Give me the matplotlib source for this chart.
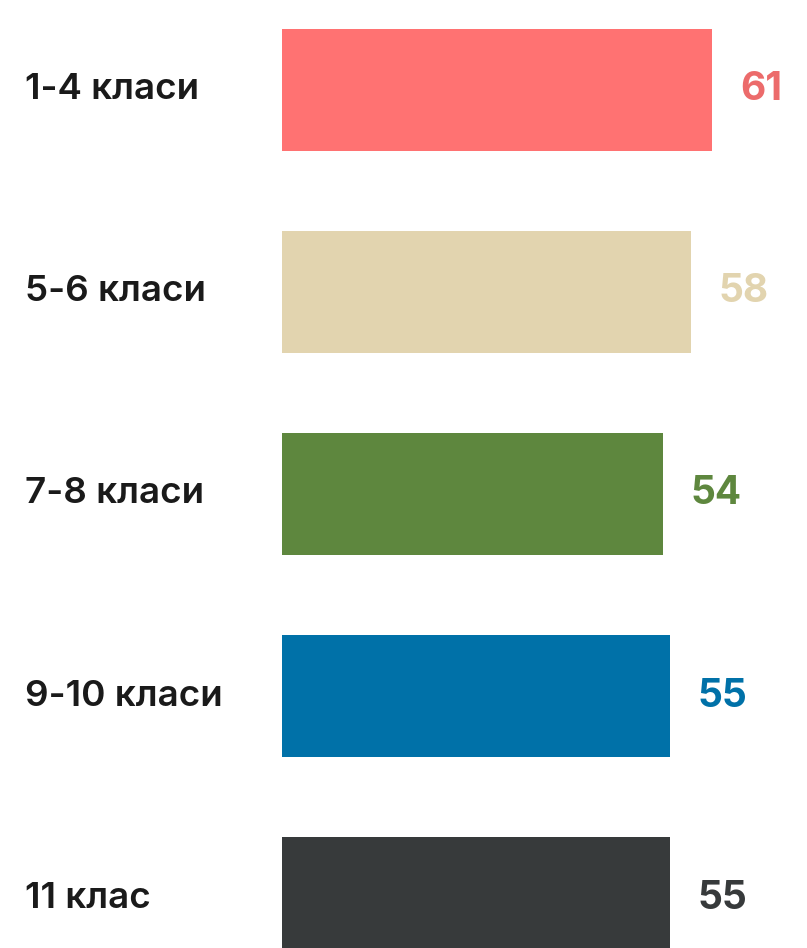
import matplotlib.pyplot as plt

# data
categories = ['1-4 класи', '5-6 класи', '7-8 класи', '9-10 класи', '11 клас']
values = [61, 58, 54, 55, 55]
bar_colors = ['#FF7272', '#E2D4AF', '#5E873E', '#0071A8', '#373A3B']
label_colors = ['#EC6B6B', '#E2D4AF', '#5E873E', '#0071A8', '#373A3B']

fig = plt.figure(figsize=(8.07, 9.48), dpi=100)
fig.patch.set_facecolor('white')

# axes start where the bars start (value 0)
ax = fig.add_axes([282 / 807, 0, 525 / 807, 1])
ax.set_xlim(0, 74.5)
ax.set_ylim(4.2475, -0.4455)
ax.axis('off')

ypos = list(range(len(categories)))
ax.barh(ypos, values, height=0.6, color=bar_colors)

for y, cat, v, c in zip(ypos, categories, values, label_colors):
    ax.text(-36.4, y, cat, ha='left', va='center', fontsize=26.5,
            fontweight='semibold', family='Inter', color='#1a1a1a')
    ax.text(v + 4, y, str(v), ha='left', va='center', fontsize=28,
            fontweight='bold', family='Inter', color=c)

fig.savefig('out.png', dpi=100, facecolor='white')
